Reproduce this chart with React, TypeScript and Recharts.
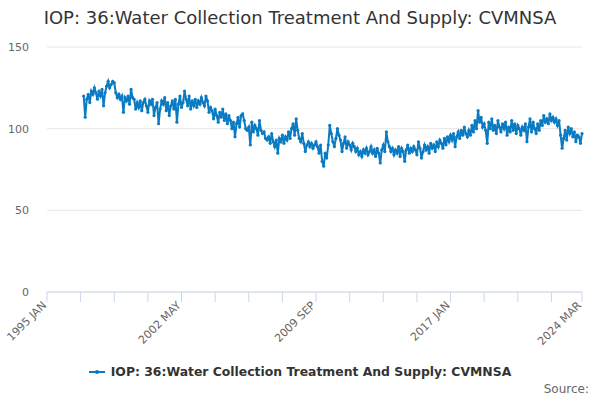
import React from 'react';
import { LineChart, Line, XAxis, YAxis, CartesianGrid } from 'recharts';

const MONTHS = ['JAN', 'FEB', 'MAR', 'APR', 'MAY', 'JUN', 'JUL', 'AUG', 'SEP', 'OCT', 'NOV', 'DEC'];
const FIRST_YEAR = 1995;
const LAST_YEAR = 2024;
const LAST_MONTH = 2; // MAR
const DATA_START_YEAR = 1997;

// monthly index values, one row per year from 1997
const VALUES: number[][] = [
  [120, 107, 118, 121, 116, 123, 121, 125, 122, 118, 123, 120], // 1997
  [124, 114, 122, 126, 129, 125, 127, 129, 128, 122, 119, 121], // 1998
  [118, 120, 110, 119, 117, 120, 115, 124, 119, 118, 112, 116], // 1999
  [113, 117, 111, 116, 118, 114, 110, 117, 115, 118, 108, 113], // 2000
  [116, 103, 112, 117, 115, 119, 111, 116, 108, 114, 117, 112], // 2001
  [118, 104, 115, 120, 113, 116, 123, 118, 114, 120, 112, 117], // 2002
  [114, 118, 113, 117, 115, 119, 116, 114, 120, 117, 110, 113], // 2003
  [111, 106, 112, 108, 104, 110, 107, 112, 105, 109, 103, 108], // 2004
  [105, 100, 104, 95, 103, 107, 101, 108, 109, 105, 100, 99], // 2005
  [101, 90, 104, 98, 102, 100, 96, 105, 99, 97, 98, 94], // 2006
  [93, 95, 91, 97, 92, 89, 93, 85, 94, 92, 96, 91], // 2007
  [95, 93, 98, 94, 100, 103, 96, 106, 99, 94, 92, 97], // 2008
  [91, 86, 90, 92, 89, 91, 88, 90, 92, 89, 85, 90], // 2009
  [80, 77, 85, 82, 90, 102, 97, 92, 89, 94, 100, 96], // 2010
  [93, 86, 91, 95, 88, 92, 90, 87, 91, 89, 86, 88], // 2011
  [84, 86, 83, 87, 85, 88, 84, 86, 89, 85, 87, 83], // 2012
  [88, 85, 79, 87, 90, 86, 98, 92, 89, 86, 88, 84], // 2013
  [87, 85, 89, 83, 88, 86, 80, 87, 90, 85, 88, 86], // 2014
  [89, 87, 84, 92, 88, 82, 86, 90, 87, 89, 85, 91], // 2015
  [88, 90, 86, 92, 89, 93, 91, 88, 94, 90, 95, 92], // 2016
  [96, 93, 97, 89, 95, 98, 94, 99, 96, 101, 97, 95], // 2017
  [99, 96, 102, 98, 105, 100, 111, 104, 107, 101, 103, 99], // 2018
  [91, 104, 100, 106, 99, 102, 97, 105, 101, 98, 103, 100], // 2019
  [104, 96, 101, 98, 105, 99, 103, 97, 102, 100, 96, 101], // 2020
  [99, 103, 92, 101, 106, 98, 104, 100, 97, 103, 99, 105], // 2021
  [102, 108, 104, 106, 103, 109, 105, 107, 104, 106, 102, 105], // 2022
  [96, 88, 94, 99, 93, 101, 97, 100, 95, 98, 92, 96], // 2023
  [95, 91, 97], // 2024
];

const Y_TICKS = [0, 50, 100, 150];
const LABELED = ['1995 JAN', '2002 MAY', '2009 SEP', '2017 JAN', '2024 MAR'];
const TICK_STEP = 22;

const SERIES_NAME = 'IOP: 36:Water Collection Treatment And Supply: CVMNSA';
const COLOR = '#0a7bc2';

const data: { month: string; value: number | null }[] = [];
for (let y = FIRST_YEAR; y <= LAST_YEAR; y++) {
  for (let m = 0; m < 12; m++) {
    if (y === LAST_YEAR && m > LAST_MONTH) break;
    const row = VALUES[y - DATA_START_YEAR];
    const v = row && row[m] !== undefined ? row[m] : null;
    data.push({ month: `${y} ${MONTHS[m]}`, value: v });
  }
}

const xTicks = data.filter((_, i) => i % TICK_STEP === 0).map(d => d.month);
xTicks.push(data[data.length - 1].month);

const font = '"DejaVu Sans", Verdana, sans-serif';

const XTick = (props: any) => {
  const { x, y, payload } = props;
  if (!LABELED.includes(payload.value)) return null;
  return (
    <g transform={`translate(${x},${y + 2})`}>
      <text textAnchor="end" fill="#666" fontSize={11} fontFamily={font} transform="rotate(-45)">
        {payload.value}
      </text>
    </g>
  );
};

export default function App() {
  return (
    <div style={{ position: 'relative', width: 600, height: 400, fontFamily: font, background: '#fff' }}>
      <style>{'body{margin:0}'}</style>
      <div style={{ position: 'absolute', top: 7, left: 0, width: 600, textAlign: 'center', fontSize: 18, color: '#333' }}>
        {SERIES_NAME}
      </div>
      <LineChart width={600} height={400} data={data} margin={{ top: 47, right: 18, left: 0, bottom: 48 }}>
        <CartesianGrid vertical={false} stroke="#e6e6e6" />
        <XAxis
          dataKey="month"
          ticks={xTicks}
          interval={0}
          height={60}
          stroke="#ccd6eb"
          tickSize={10}
          tick={<XTick />}
        />
        <YAxis
          domain={[0, 150]}
          ticks={Y_TICKS}
          width={47}
          axisLine={false}
          tickLine={false}
          tickMargin={12}
          tick={{ fill: '#666', fontSize: 11, fontFamily: font }}
        />
        <Line
          type="linear"
          dataKey="value"
          stroke={COLOR}
          strokeWidth={2}
          dot={{ r: 1.6, fill: COLOR, stroke: COLOR, strokeWidth: 0 }}
          isAnimationActive={false}
        />
      </LineChart>
      <div style={{ position: 'absolute', top: 364, left: 0, width: 600, display: 'flex', justifyContent: 'center', alignItems: 'center' }}>
        <svg width={18} height={10} style={{ marginRight: 4 }}>
          <line x1={0} y1={5} x2={16} y2={5} stroke={COLOR} strokeWidth={2} />
          <circle cx={8} cy={5} r={2} fill={COLOR} />
        </svg>
        <span style={{ fontSize: 12.4, fontWeight: 'bold', color: '#333' }}>{SERIES_NAME}</span>
      </div>
      <div style={{ position: 'absolute', top: 382, right: 11, fontSize: 12, color: '#666' }}>Source:</div>
    </div>
  );
}
